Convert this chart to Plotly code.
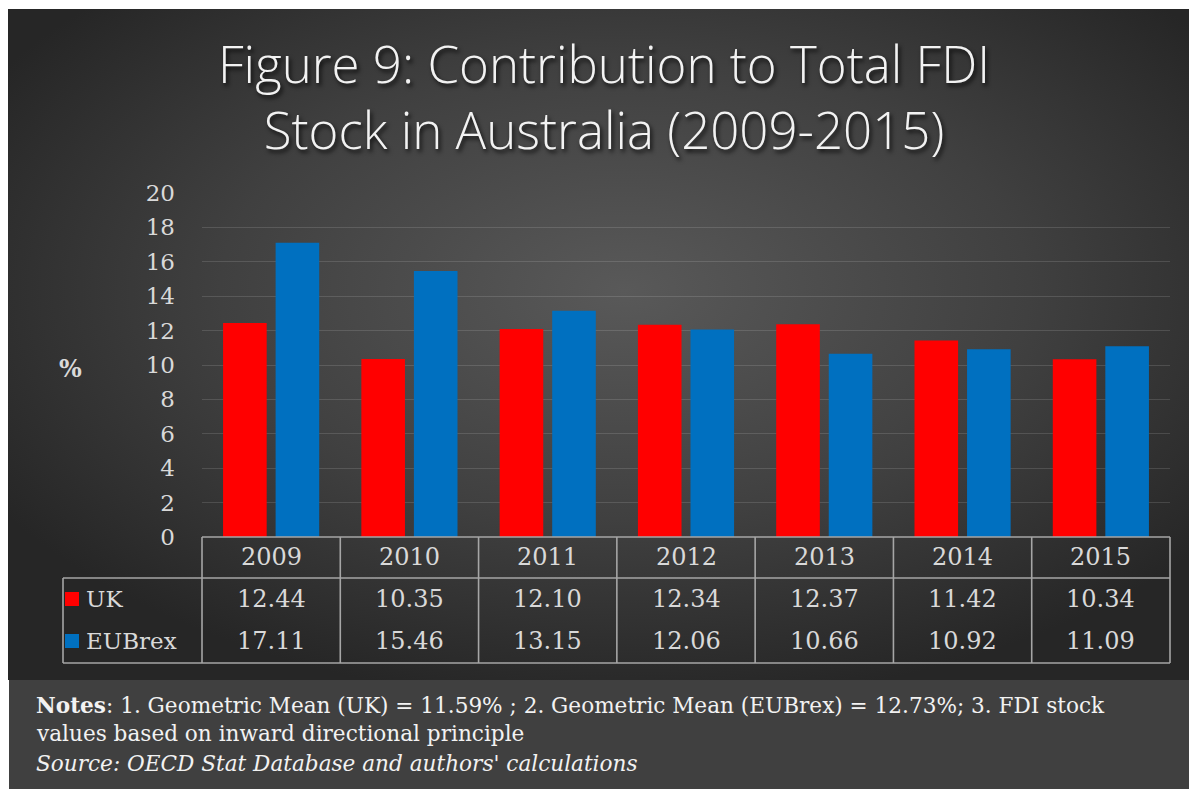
import base64
import plotly.graph_objects as go

years = ["2009", "2010", "2011", "2012", "2013", "2014", "2015"]
uk = [12.44, 10.35, 12.10, 12.34, 12.37, 11.42, 10.34]
eubrex = [17.11, 15.46, 13.15, 12.06, 10.66, 10.92, 11.09]
series_names = ["UK", "EUBrex"]
series_colors = ["#FF0000", "#0070C0"]
y_ticks = list(range(0, 21, 2))

title_text = "Figure 9: Contribution to Total FDI<br>Stock in Australia (2009-2015)"
notes_line1 = "<b>Notes</b>: 1. Geometric Mean (UK) = 11.59% ; 2. Geometric Mean (EUBrex) = 12.73%; 3. FDI stock"
notes_line2 = "values based on inward directional principle"
notes_line3 = "<i>Source: OECD Stat Database and authors' calculations</i>"

OFF = 8  # page body margin
W, H = 1197 - OFF, 789 - OFF
L, R, T, B = 202, 1170, 193, 537  # plot area in page pixels
PW, PH = R - L, B - T


def px(x):
    return (x - L) / PW


def py(y):
    return (B - y) / PH


SERIF = "DejaVu Serif"
TXT = "#d9d9d9"
LINE = "#a6a6a6"

svg = (
    '<svg xmlns="http://www.w3.org/2000/svg" width="1186" height="671" preserveAspectRatio="none">'
    '<defs><radialGradient id="g" cx="0.52" cy="0.42" r="0.62">'
    '<stop offset="0" stop-color="#595959"/><stop offset="0.55" stop-color="#404040"/>'
    '<stop offset="1" stop-color="#262626"/></radialGradient></defs>'
    '<rect width="1186" height="671" fill="url(#g)"/></svg>'
)
svg_uri = "data:image/svg+xml;base64," + base64.b64encode(svg.encode()).decode()

fig = go.Figure()
for name, vals, col in zip(series_names, [uk, eubrex], series_colors):
    fig.add_trace(go.Bar(x=years, y=vals, name=name, marker=dict(color=col, line=dict(width=0))))

fig.update_layout(
    width=W, height=H,
    margin=dict(l=L - OFF, r=W - (R - OFF), t=T - OFF, b=H - (B - OFF), pad=0),
    paper_bgcolor="white",
    plot_bgcolor="rgba(0,0,0,0)",
    barmode="group", bargap=0.24, bargroupgap=0.17,
    showlegend=False,
    xaxis=dict(type="category", showticklabels=False, showgrid=False, zeroline=False,
               showline=False, range=[-0.5, len(years) - 0.5], fixedrange=True),
    yaxis=dict(range=[0, 20], tickvals=y_ticks, showgrid=True,
               gridcolor="rgba(255,255,255,0.13)", gridwidth=1, zeroline=False,
               showline=False, ticks="", ticklabelstandoff=26,
               tickfont=dict(family=SERIF, size=23, color=TXT)),
    images=[dict(source=svg_uri, xref="paper", yref="paper", x=px(8), y=py(9),
                 sizex=1186 / PW, sizey=671 / PH, sizing="stretch", layer="below",
                 xanchor="left", yanchor="top")],
)

shapes = []
shapes.append(dict(type="rect", xref="paper", yref="paper", x0=px(9), x1=px(1200),
                   y0=py(680), y1=py(792), fillcolor="#404040", line=dict(width=0), layer="below"))
lw = dict(color=LINE, width=1.6)
n = len(years)
yt, yh, yb = py(537), py(578), py(663)
xl = px(63)
shapes.append(dict(type="line", xref="paper", yref="paper", x0=0, x1=1, y0=yt, y1=yt, line=lw))
shapes.append(dict(type="line", xref="paper", yref="paper", x0=xl, x1=1, y0=yh, y1=yh, line=lw))
shapes.append(dict(type="line", xref="paper", yref="paper", x0=xl, x1=1, y0=yb, y1=yb, line=lw))
for i in range(n + 1):
    shapes.append(dict(type="line", xref="paper", yref="paper", x0=i / n, x1=i / n, y0=yt, y1=yb, line=lw))
shapes.append(dict(type="line", xref="paper", yref="paper", x0=xl, x1=xl, y0=yh, y1=yb, line=lw))
row_y = [599, 641]
for ry, col in zip(row_y, series_colors):
    shapes.append(dict(type="rect", xref="paper", yref="paper", x0=px(65), x1=px(79),
                       y0=py(ry + 7), y1=py(ry - 7), fillcolor=col, line=dict(width=0)))
fig.update_layout(shapes=shapes)

ann = []
ann.append(dict(text=title_text, xref="paper", yref="paper", x=px(604), y=py(96),
                xanchor="center", yanchor="middle", showarrow=False, align="center",
                font=dict(family="Open Sans", size=51, weight=300, color="#f2f2f2",
                          shadow="2px 3px 4px rgba(0,0,0,0.8)")))
ann.append(dict(text="<b>%</b>", xref="paper", yref="paper", x=px(70), y=py(368),
                xanchor="center", yanchor="middle", showarrow=False,
                font=dict(family=SERIF, size=24, color=TXT)))
# category axis: annotation x uses the category index
for i, yr in enumerate(years):
    ann.append(dict(text=yr, xref="x", yref="paper", x=i, y=py(557), xanchor="center",
                    yanchor="middle", showarrow=False, font=dict(family=SERIF, size=24, color=TXT)))
for ry, name, vals in zip(row_y, series_names, [uk, eubrex]):
    ann.append(dict(text=name, xref="paper", yref="paper", x=px(84), y=py(ry), xanchor="left",
                    yanchor="middle", showarrow=False, font=dict(family=SERIF, size=23, color=TXT)))
    for i, v in enumerate(vals):
        ann.append(dict(text=f"{v:.2f}", xref="x", yref="paper", x=i, y=py(ry), xanchor="center",
                        yanchor="middle", showarrow=False, font=dict(family=SERIF, size=24, color=TXT)))
for txt, ly in zip([notes_line1, notes_line2, notes_line3], [705, 733, 763]):
    ann.append(dict(text=txt, xref="paper", yref="paper", x=px(34), y=py(ly), xanchor="left",
                    yanchor="middle", showarrow=False, align="left",
                    font=dict(family=SERIF, size=21.6, color="#f2f2f2")))
fig.update_layout(annotations=ann)

fig.write_html("out.html")
